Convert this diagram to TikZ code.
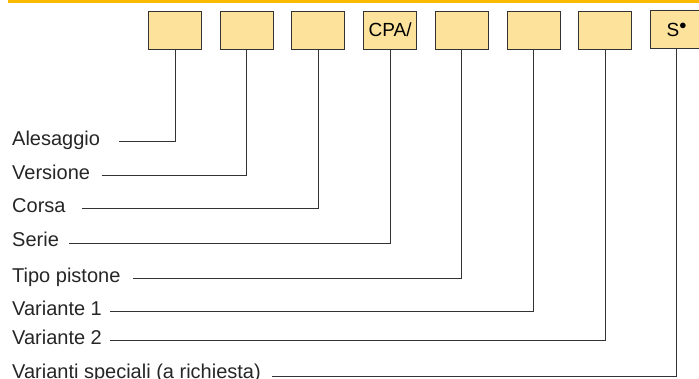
\documentclass[tikz,border=0pt]{standalone}
\usepackage{fontspec}
\setmainfont{Liberation Sans}
\usepackage{xcolor}
\usepackage{tikz}

\definecolor{barorange}{HTML}{FBBA00}
\definecolor{boxyellow}{HTML}{FCE29B}

\tikzset{
  codebox/.style={draw=black!80, fill=boxyellow, line width=1pt,
    minimum width=53pt, minimum height=38pt, inner sep=0pt,
    font=\fontsize{19}{20}\selectfont},
  lbl/.style={anchor=base west, inner sep=0pt, text=black!85,
    font=\fontsize{20}{22}\selectfont},
  lead/.style={draw=black!80, line width=1pt}
}

\begin{document}
\begin{tikzpicture}[x=1pt, y=-1pt]
  \useasboundingbox (0,0) rectangle (699,379);
  % ---- top bar ----
  \fill[barorange] (8,0) rectangle (699,3);
  % ---- code boxes ----
  \node[codebox] (b1) at (175,30.2) {};
  \node[codebox] (b2) at (246.7,30.2) {};
  \node[codebox] (b3) at (318.4,30.2) {};
  \node[codebox] (b4) at (390.1,30.2) {CPA/};
  \node[codebox] (b5) at (461.8,30.2) {};
  \node[codebox] (b6) at (533.5,30.2) {};
  \node[codebox] (b7) at (605.2,30.2) {};
  \node[codebox] (b8) at (676.9,29.5) {S$^{\bullet}$};
  % ---- labels ----
  \node[lbl] (l1) at (12,145.2) {Alesaggio};
  \node[lbl] (l2) at (12,179.2) {Versione};
  \node[lbl] (l3) at (12,212.5) {Corsa};
  \node[lbl] (l4) at (12,246.8) {Serie};
  \node[lbl] (l5) at (12,282.2) {Tipo pistone};
  \node[lbl] (l6) at (12,315.2) {Variante 1};
  \node[lbl] (l7) at (12,344.2) {Variante 2};
  \node[lbl] (l8) at (12,378.8) {Varianti speciali (a richiesta)};
  % ---- leader lines ----
  \coordinate (s1) at (119,141.7);
  \coordinate (s2) at (101.7,175.7);
  \coordinate (s3) at (81.7,209);
  \coordinate (s4) at (69,243.3);
  \coordinate (s5) at (133.3,278.7);
  \coordinate (s6) at (110,311.7);
  \coordinate (s7) at (110,340.7);
  \coordinate (s8) at (272,376);
  \draw[lead] (s1) -| (b1.south);
  \draw[lead] (s2) -| (b2.south);
  \draw[lead] (s3) -| (b3.south);
  \draw[lead] (s4) -| (b4.south);
  \draw[lead] (s5) -| (b5.south);
  \draw[lead] (s6) -| (b6.south);
  \draw[lead] (s7) -| (b7.south);
  \draw[lead] (s8) -| (b8.south);
\end{tikzpicture}
\end{document}
